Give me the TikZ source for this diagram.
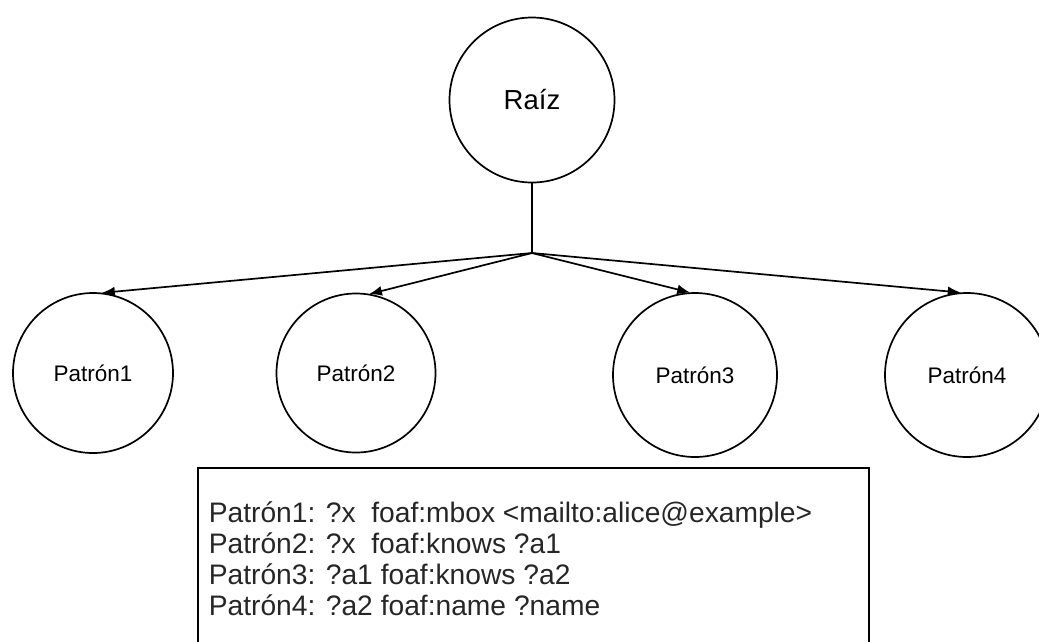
\documentclass[tikz,border=0pt]{standalone}
\usepackage{fontspec}
\setmainfont{Liberation Sans}
\usetikzlibrary{arrows.meta}
\begin{document}
\begin{tikzpicture}[x=1pt,y=-1pt, line width=1.7pt,
  patnode/.style={draw, circle, inner sep=0pt, font=\fontsize{22.5}{26}\selectfont},
  branch/.style={-{Latex[length=13pt,width=10pt]}, shorten >=-1pt},
  listbox/.style={draw, rectangle, anchor=north west, minimum width=671pt, minimum height=220pt, inner sep=0pt}
]
\useasboundingbox (0,0) rectangle (1039,641);
\clip (0,0) rectangle (1039,641);

% root and pattern nodes
\node[patnode, minimum size=165pt, font=\fontsize{27.5}{31}\selectfont] (root) at (532,100) {Raíz};
\node[patnode, minimum size=160pt] (p1) at (93,373) {Patrón1};
\node[patnode, minimum size=159pt] (p2) at (356,373) {Patrón2};
\node[patnode, minimum size=164pt] (p3) at (695,375) {Patrón3};
\node[patnode, minimum size=164pt] (p4) at (967,375) {Patrón4};

% fork point below the root
\coordinate (fork) at (532,253);
\draw (root.south) -- (fork);
\draw[branch] (fork) -- (p1.83);
\draw[branch] (fork) -- (p2.80);
\draw[branch] (fork) -- (p3.94);
\draw[branch] (fork) -- (p4.95);

% list of triple patterns
\node[listbox] (box) at (197,467) {};
\node[anchor=north west, inner sep=0pt, align=left,
      font=\fontsize{28.2}{31}\selectfont, text=black!85] (lines) at (208,501)
  {Patrón1: ?x\ \ foaf:mbox <mailto:alice@example>\\
   Patrón2: ?x\ \ foaf:knows ?a1\\
   Patrón3: ?a1 foaf:knows ?a2\\
   Patrón4: ?a2 foaf:name ?name};
\end{tikzpicture}
\end{document}
